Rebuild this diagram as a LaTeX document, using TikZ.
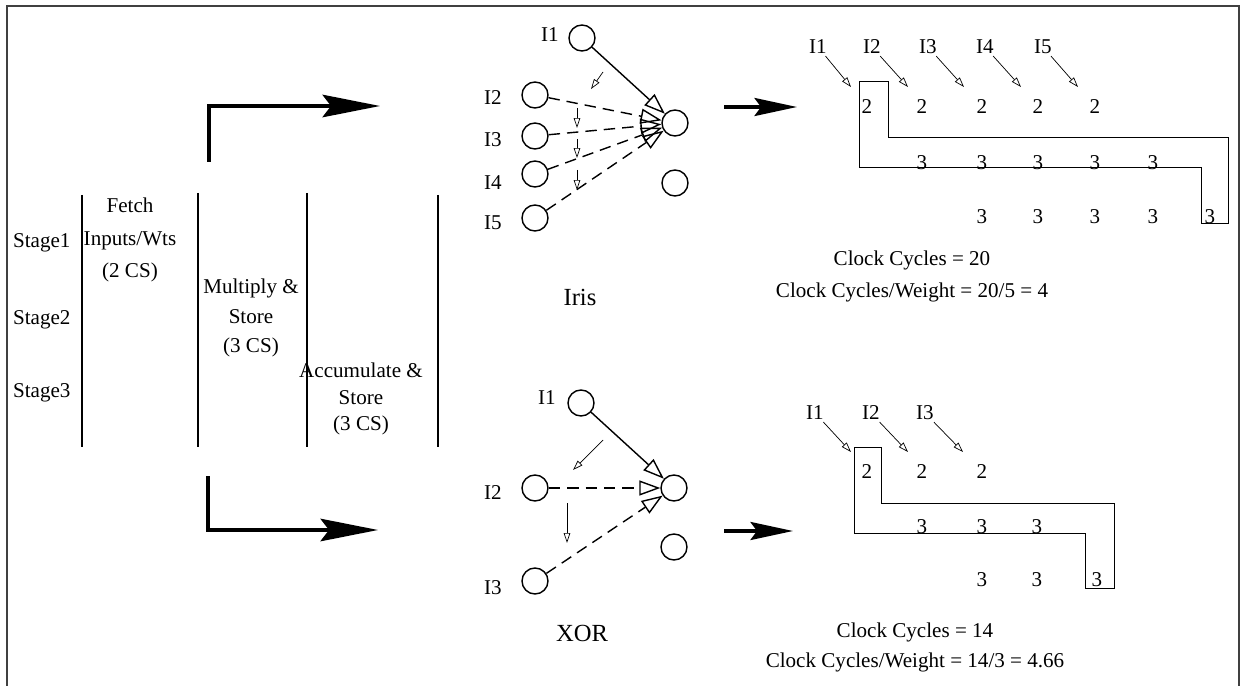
\documentclass[tikz,border=0pt]{standalone}
\usepackage{fontspec}
\setmainfont{Liberation Serif}
\usetikzlibrary{arrows.meta, positioning}
\tikzset{
    neuron/.style = {circle, draw, line width=0.8pt, minimum size=0.52cm, inner sep=0pt},
    lbl/.style = {inner sep=1pt, font=\fontsize{12}{14}\selectfont},
    blocktxt/.style = {align=center, inner sep=0pt, font=\fontsize{12}{#1}\selectfont},
    wire/.style = {line width=0.8pt, -{Triangle[open, length=0.42cm, width=0.3cm]}},
    dwire/.style = {wire, dash pattern=on 6.5pt off 4pt},
    tinyarrow/.style = {line width=0.4pt, -{Triangle[open, length=0.2cm, width=0.13cm]}},
    bigarrow/.style = {line width=2pt, -{Stealth[length=1.15cm, width=0.45cm, inset=0.17cm]}},
    midarrow/.style = {line width=2pt, -{Stealth[length=0.85cm, width=0.36cm, inset=0.13cm]}},
    pipe/.style = {line width=0.5pt}
}
\begin{document}
\begin{tikzpicture}[x=0.02cm, y=-0.02cm]
\useasboundingbox (0,0) rectangle (1245,686);
% frame
\draw[line width=0.8pt, black!75] (7,686) -- (7,6) -- (1239,6) -- (1239,686);

% pipeline stages
\foreach \x/\ya in {82/195, 198/193, 307/193, 438/195}
    \draw[line width=0.9pt] (\x,\ya) -- (\x,447);
\node[lbl, anchor=west] (st1) at (11,243) {Stage1};
\node[lbl, anchor=west] (st2) at (11,320) {Stage2};
\node[lbl, anchor=west] (st3) at (11,393) {Stage3};
\node[blocktxt=18.5pt] (fetch) at (130,240) {Fetch\\Inputs/Wts\\(2 CS)};
\node[blocktxt=17pt] (mult) at (251,318) {Multiply \&\\Store\\(3 CS)};
\node[blocktxt=15pt] (accu) at (361,399) {Accumulate \&\\Store\\(3 CS)};

% thick arrows
\coordinate (ua) at (209,162);
\coordinate (ub) at (209,106);
\coordinate (uc) at (380,106);
\draw[bigarrow] (ua) -- (ub) -- (uc);
\coordinate (la) at (208,476);
\coordinate (lb) at (208,530);
\coordinate (lc) at (378,530);
\draw[bigarrow] (la) -- (lb) -- (lc);

% Iris network
\node[neuron] (iI1) at (582,38) {};
\node[neuron] (iI2) at (535,95) {};
\node[neuron] (iI3) at (535,136) {};
\node[neuron] (iI4) at (535,174) {};
\node[neuron] (iI5) at (535,218) {};
\node[neuron] (iout) at (675,123) {};
\node[neuron] (iex) at (675,183) {};
\node[lbl] (iL1) at (550,35) {I1};
\node[lbl] (iL2) at (493,98) {I2};
\node[lbl] (iL3) at (493,140) {I3};
\node[lbl] (iL4) at (493,183) {I4};
\node[lbl] (iL5) at (493,223) {I5};
\draw[wire] (iI1) -- (iout);
\foreach \n in {2,...,5}
    \draw[dwire] (iI\n) -- (iout);
\coordinate (is1) at (603,72);  \coordinate (ie1) at (591,89);
\coordinate (is2) at (577,108); \coordinate (ie2) at (577,128);
\coordinate (is3) at (577,139); \coordinate (ie3) at (577,158);
\coordinate (is4) at (577,170); \coordinate (ie4) at (577,190);
\foreach \n in {1,...,4}
    \draw[tinyarrow] (is\n) -- (ie\n);
\node[lbl, font=\fontsize{14}{16}\selectfont] (iris) at (580,297) {Iris};

% XOR network
\node[neuron] (xI1) at (581,403) {};
\node[neuron] (xI2) at (535,488) {};
\node[neuron] (xI3) at (535,581) {};
\node[neuron] (xout) at (674,488) {};
\node[neuron] (xex) at (674,547) {};
\node[lbl] (xL1) at (547,398) {I1};
\node[lbl] (xL2) at (493,493) {I2};
\node[lbl] (xL3) at (493,588) {I3};
\draw[wire] (xI1) -- (xout);
\draw[dwire] (xI2) -- (xout);
\draw[dwire] (xI3) -- (xout);
\coordinate (xs1) at (603,440); \coordinate (xe1) at (573,470);
\coordinate (xs2) at (567,503); \coordinate (xe2) at (567,543);
\draw[tinyarrow] (xs1) -- (xe1);
\draw[tinyarrow] (xs2) -- (xe2);
\node[lbl, font=\fontsize{14}{16}\selectfont] (xor) at (582,633) {XOR};

% arrows to the schedules
\coordinate (ma1) at (724,107); \coordinate (mb1) at (797,107);
\draw[midarrow] (ma1) -- (mb1);
\coordinate (ma2) at (724,531); \coordinate (mb2) at (793,531);
\draw[midarrow] (ma2) -- (mb2);

% Iris schedule
\foreach \x/\tx [count=\k] in {818/851, 872/908, 928/964, 985/1021, 1043/1078} {
    \node[lbl] (pa\k) at (\x,47) {I\k};
    \coordinate (ta\k) at (\tx,87);
    \draw[tinyarrow] (pa\k) -- (ta\k);
}
\foreach \x [count=\k] in {867,922,982,1038,1095}
    \node[lbl] (atwo\k) at (\x,107) {2};
\foreach \x [count=\k] in {922,982,1038,1095,1153}
    \node[lbl] (athr\k) at (\x,163) {3};
\foreach \x [count=\k] in {982,1038,1095,1153,1210}
    \node[lbl] (afin\k) at (\x,217) {3};
\draw[pipe] (859,81) -- (888,81) -- (888,137) -- (1228,137) -- (1228,223)
    -- (1201,223) -- (1201,167) -- (859,167) -- cycle;
\node[lbl] (acc) at (912,260) {Clock Cycles = 20};
\node[lbl] (acw) at (912,292) {Clock Cycles/Weight = 20/5 = 4};

% XOR schedule
\foreach \x/\tx [count=\k] in {815/851, 871/908, 925/963} {
    \node[lbl] (pb\k) at (\x,413) {I\k};
    \coordinate (tb\k) at (\tx,452);
    \draw[tinyarrow] (pb\k) -- (tb\k);
}
\foreach \x [count=\k] in {867,922,982}
    \node[lbl] (btwo\k) at (\x,472) {2};
\foreach \x [count=\k] in {922,982,1037}
    \node[lbl] (bthr\k) at (\x,527) {3};
\foreach \x [count=\k] in {982,1037,1097}
    \node[lbl] (bfin\k) at (\x,580) {3};
\draw[pipe] (854,447) -- (881,447) -- (881,503) -- (1114,503) -- (1114,588)
    -- (1085,588) -- (1085,533) -- (854,533) -- cycle;
\node[lbl] (bcc) at (915,632) {Clock Cycles = 14};
\node[lbl] (bcw) at (915,662) {Clock Cycles/Weight = 14/3 = 4.66};
\end{tikzpicture}
\end{document}
